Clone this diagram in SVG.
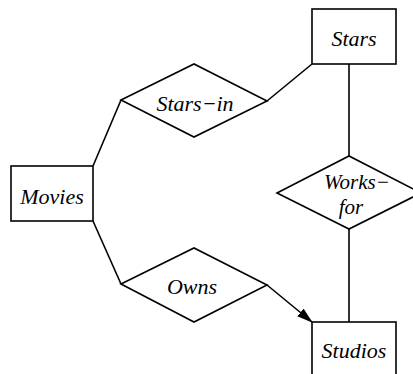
<svg xmlns="http://www.w3.org/2000/svg" width="413" height="374" viewBox="0 0 413 374">
<style>
.shape{fill:#fff;stroke:#000;stroke-width:1.6}
.line{fill:none;stroke:#000;stroke-width:1.6}
text{font-family:"Liberation Serif","Times New Roman",serif;font-style:italic;font-size:22px;fill:#000;text-anchor:middle}
.small{font-size:21px}
</style>
<defs>
<marker id="arrow" markerWidth="16" markerHeight="10" refX="15" refY="5" orient="auto" markerUnits="userSpaceOnUse">
<path d="M0,0 L16,5 L0,10 Z" fill="#000"/>
</marker>
</defs>
<rect width="413" height="374" fill="#fff"/>
<g id="connectors">
<line class="line" x1="93" y1="166" x2="121" y2="100"/>
<line class="line" x1="267" y1="101" x2="312" y2="64"/>
<line class="line" x1="349" y1="64" x2="349" y2="156"/>
<line class="line" x1="349" y1="229" x2="349" y2="322"/>
<line class="line" x1="93" y1="221" x2="121" y2="284"/>
<line class="line" x1="267" y1="285" x2="312" y2="322" marker-end="url(#arrow)"/>
</g>
<g id="stars">
<rect class="shape" x="312" y="9" width="84" height="55"/>
<text x="354" y="46">Stars</text>
</g>
<g id="movies">
<rect class="shape" x="11" y="166" width="82" height="55"/>
<text x="52" y="204">Movies</text>
</g>
<g id="studios">
<rect class="shape" x="312" y="322" width="84" height="60"/>
<text x="354" y="358">Studios</text>
</g>
<g id="stars-in">
<polygon class="shape" points="121,100 194,64 267,101 194,137"/>
<text x="195" y="111">Stars−in</text>
</g>
<g id="works-for">
<polygon class="shape" points="277,193 349,156 421,193 349,229"/>
<text class="small" x="357" y="189">Works−</text>
<text class="small" x="351" y="214">for</text>
</g>
<g id="owns">
<polygon class="shape" points="121,284 194,248 267,285 194,322"/>
<text x="192" y="294">Owns</text>
</g>
</svg>
